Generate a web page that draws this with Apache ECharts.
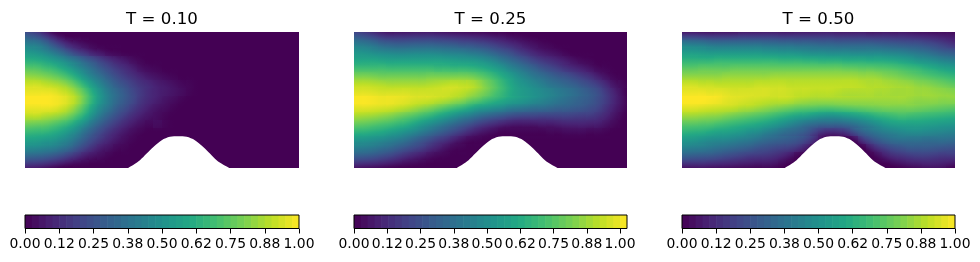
<!DOCTYPE html>
<html><head><meta charset="utf-8">
<style>html,body{margin:0;padding:0;background:#fff}#c{width:980px;height:262px}</style>
<script src="https://cdn.jsdelivr.net/npm/echarts@6/dist/echarts.min.js"></script>
</head><body><div id="c"></div>
<script>
const titles = ['T = 0.10','T = 0.25','T = 0.50'];
const tickValues = [0,0.125,0.25,0.375,0.5,0.625,0.75,0.875,1];
const tickLabels = ['0.00','0.12','0.25','0.38','0.50','0.62','0.75','0.88','1.00'];
const colorbarMax = [1,1.026,1];
const viridis = ['#440154','#482475','#414487','#355f8d','#2a788e','#21918c','#22a884','#44bf70','#7ad151','#bddf26','#fde725'];
const bumpX = [0.754,0.795,0.839,0.888,0.937,0.998,1.058,1.119,1.180,1.240,1.301,1.350,1.399,1.445,1.490];
const bumpY = [0,0.025,0.057,0.106,0.155,0.204,0.229,0.233,0.229,0.204,0.155,0.106,0.057,0.025,0];

const fieldT010 = [
[28,24,17,9,3,0,0,0,0,0,0,0,0,0,0,0,0,0,0,0,0,0,0,0,0,0,0,0,0,0,0,0,0,0],
[42,40,34,25,17,10,6,3,1,0,0,0,0,0,0,0,0,0,0,0,0,0,0,0,0,0,0,0,0,0,0,0,0,0],
[52,50,46,40,33,25,18,13,8,5,2,1,0,0,0,0,0,0,0,0,0,0,0,0,0,0,0,0,0,0,0,0,0,0],
[62,61,58,54,49,43,37,30,24,18,13,9,6,3,1,0,0,0,0,0,0,0,0,0,0,0,0,0,0,0,0,0,0,0],
[73,72,69,66,61,55,48,41,34,27,21,16,12,8,4,2,1,0,0,0,0,0,0,0,0,0,0,0,0,0,0,0,0,0],
[83,82,80,77,73,67,59,50,42,35,28,22,17,13,9,6,4,2,1,0,0,0,0,0,0,0,0,0,0,0,0,0,0,0],
[92,92,90,88,85,80,72,62,52,43,35,28,23,18,14,11,8,6,4,2,1,0,0,0,0,0,0,0,0,0,0,0,0,0],
[97,97,97,96,93,89,82,72,60,49,40,33,27,21,16,12,9,7,5,3,1,0,0,0,0,0,0,0,0,0,0,0,0,0],
[100,100,100,99,97,93,86,75,62,50,41,33,27,21,15,11,8,5,3,1,0,0,0,0,0,0,0,0,0,0,0,0,0,0],
[97,97,97,96,93,88,80,69,56,45,37,29,23,17,12,8,5,3,1,0,0,0,0,0,0,0,0,0,0,0,0,0,0,0],
[90,90,88,86,83,78,70,60,48,38,30,23,17,12,8,5,3,1,0,0,0,0,0,0,0,0,0,0,0,0,0,0,0,0],
[78,77,76,73,69,64,56,47,37,29,22,16,11,7,4,2,3,1,0,0,0,0,0,0,0,0,0,0,0,0,0,0,0,0],
[67,66,65,62,58,52,45,36,28,21,15,10,6,3,1,0,0,0,0,0,0,0,0,0,0,0,0,0,0,0,0,0,0,0],
[57,56,54,52,48,43,36,28,21,15,10,6,3,1,0,0,0,0,0,0,0,0,0,0,0,0,0,0,0,0,0,0,0,0],
[47,46,44,42,38,33,26,19,13,8,5,2,1,0,0,0,0,0,0,0,0,0,0,0,0,0,0,0,0,0,0,0,0,0],
[33,32,30,27,23,18,13,8,5,3,1,0,0,0,0,0,0,0,0,0,0,0,0,0,0,0,0,0,0,0,0,0,0,0],
[16,15,13,10,7,4,2,1,0,0,0,0,0,0,0,0,0,0,0,0,0,0,0,0,0,0,0,0,0,0,0,0,0,0]
];
const fieldT025 = [
[27,24,20,16,14,14,14,15,15,15,14,13,12,11,10,9,8,6,5,3,2,1,0,0,0,0,0,0,0,0,0,0,0,0],
[42,40,37,33,31,30,30,31,31,31,30,29,28,26,25,23,21,18,15,12,9,6,4,2,1,0,0,0,0,0,0,0,0,0],
[52,51,49,47,46,45,45,46,46,46,45,44,43,42,40,38,35,31,27,23,18,14,10,7,5,3,1,0,0,0,0,0,0,0],
[60,60,60,59,58,58,58,58,58,58,58,57,56,55,54,52,49,45,40,35,30,25,20,16,13,10,7,4,2,1,0,0,0,0],
[70,70,70,70,69,69,69,69,69,69,68,68,67,67,66,64,61,57,52,46,41,36,31,26,22,18,14,11,8,5,2,1,0,0],
[82,82,81,80,80,80,80,80,80,81,81,81,81,81,80,77,73,68,62,56,50,45,40,36,32,28,25,21,17,13,8,4,1,0],
[92,92,91,90,89,89,89,89,89,90,91,92,93,92,91,87,81,75,68,61,55,51,47,43,39,36,33,30,26,22,17,11,5,2],
[98,98,97,96,96,96,96,95,95,95,95,95,94,92,89,85,80,74,68,62,57,54,51,48,45,42,39,36,32,28,23,16,9,3],
[102,102,101,100,100,99,98,96,95,94,92,90,87,84,79,75,70,66,62,58,55,52,49,46,43,40,37,34,31,28,23,17,10,4],
[98,98,97,96,95,93,91,88,85,82,78,74,70,66,61,56,53,50,47,43,41,39,37,36,34,32,31,29,27,24,20,14,8,3],
[89,88,87,85,83,80,77,74,70,66,61,56,51,46,42,37,33,30,27,24,22,21,21,20,20,20,20,19,18,17,14,10,5,1],
[78,77,75,73,71,68,65,60,55,50,45,40,35,30,25,20,16,13,10,8,7,7,7,8,8,9,10,10,10,9,8,5,2,0],
[66,65,63,61,58,55,51,47,42,37,32,27,22,17,12,8,5,3,1,1,1,1,1,1,2,2,3,3,3,2,2,1,0,0],
[53,52,50,48,45,42,38,33,28,23,18,14,9,5,2,1,0,0,0,0,0,0,0,0,0,0,0,0,0,0,0,0,0,0],
[43,42,40,37,34,30,26,22,18,13,9,5,2,1,0,0,0,0,0,0,0,0,0,0,0,0,0,0,0,0,0,0,0,0],
[30,29,27,24,21,17,13,10,7,4,2,1,0,0,0,0,0,0,0,0,0,0,0,0,0,0,0,0,0,0,0,0,0,0],
[13,12,11,9,7,5,3,2,1,0,0,0,0,0,0,0,0,0,0,0,0,0,0,0,0,0,0,0,0,0,0,0,0,0]
];
const fieldT050 = [
[18,18,17,16,16,16,16,17,17,17,17,17,16,16,16,16,16,16,16,15,15,15,15,14,14,14,13,13,12,11,10,9,8,7],
[42,41,40,38,37,37,37,37,37,37,36,36,35,35,34,34,33,32,32,31,31,31,31,31,30,29,28,27,26,25,23,21,18,15],
[54,54,53,52,52,52,52,52,52,52,51,51,50,50,49,48,47,47,46,46,46,45,45,45,45,44,43,42,40,38,36,33,30,28],
[64,64,64,64,65,65,65,65,65,65,65,65,64,64,64,63,63,62,62,62,61,61,61,60,60,59,58,56,54,51,49,47,44,42],
[74,74,75,75,75,75,76,76,76,76,76,76,76,76,76,76,76,76,76,76,75,75,74,74,73,72,71,69,67,65,62,60,57,55],
[83,83,83,83,83,84,84,84,84,84,84,85,85,85,85,85,85,85,85,85,85,85,84,84,83,81,80,78,76,74,72,70,68,66],
[92,92,91,91,90,90,90,90,90,91,91,91,91,90,90,90,90,90,90,90,90,90,89,88,88,87,86,85,84,82,81,79,77,75],
[97,97,97,96,96,95,94,94,94,94,94,93,93,92,91,91,90,90,90,89,88,88,88,88,87,87,86,86,86,85,85,84,83,82],
[100,100,100,99,98,96,95,94,93,92,91,90,90,89,87,86,85,85,85,85,85,85,85,85,85,85,85,85,84,83,83,83,82,82],
[95,95,94,93,92,91,90,88,87,85,83,81,79,77,75,74,73,72,72,73,74,75,76,77,78,79,79,79,79,78,77,76,75,74],
[85,85,84,83,82,80,78,76,74,72,70,67,64,61,58,56,53,51,50,51,53,55,58,61,64,66,68,69,68,67,66,65,64,63],
[74,74,73,72,70,68,66,64,62,60,57,54,50,46,42,38,35,33,33,33,35,38,42,46,50,54,56,57,57,57,56,55,54,53],
[64,63,62,60,58,57,55,53,50,48,44,41,37,34,31,27,20,14,12,13,16,24,31,36,40,43,45,47,48,48,47,46,45,44],
[53,52,50,48,47,46,44,42,40,37,34,32,30,28,25,20,12,3,0,0,0,3,15,23,29,33,36,37,37,37,36,36,36,35],
[43,42,41,39,37,35,33,31,29,26,24,22,20,18,14,8,1,0,0,0,0,0,0,8,15,20,24,26,28,28,28,27,26,25],
[30,29,28,27,25,23,21,19,17,16,15,13,10,6,1,0,0,0,0,0,0,0,0,0,4,9,13,15,17,18,18,17,16,16],
[13,13,13,12,11,10,9,8,7,6,6,5,2,0,0,0,0,0,0,0,0,0,0,0,0,0,3,5,7,8,9,9,8,6]
];
const fields = [fieldT010,fieldT025,fieldT050];
const panelLeft = [25,354,682];
const panelWidth = [274,273,273];
const font = 'DejaVu Sans';

const rgbStops = viridis.map(h=>[1,3,5].map(k=>parseInt(h.substr(k,2),16)));
function colorAt(t){
  t=Math.max(0,Math.min(1,t))*(rgbStops.length-1);
  const i=Math.min(Math.floor(t),rgbStops.length-2),u=t-i;
  const c=rgbStops[i].map((a,k)=>Math.round(a+(rgbStops[i+1][k]-a)*u));
  return `rgb(${c[0]},${c[1]},${c[2]})`;
}
function cellRenderer(f,vmax){
  const ny=f.length,nx=f[0].length;
  return (p,api)=>{
    const c=p.dataIndex%nx,r=Math.floor(p.dataIndex/nx);
    const pt=api.coord([c,r]),sz=api.size([1,1]),w=sz[0],h=sz[1];
    const v=f[r][c]/100;
    const cL=Math.max(c-1,0),cR=Math.min(c+1,nx-1),rU=Math.max(r-1,0),rD=Math.min(r+1,ny-1);
    const gx=(f[r][cR]-f[r][cL])/100/((cR-cL)*w),gy=(f[rD][c]-f[rU][c])/100/((rD-rU)*h);
    const m=Math.hypot(gx,gy);
    const x0=Math.floor(pt[0]-w/2),y0=Math.floor(pt[1]-h/2);
    let fill=colorAt(v/vmax);
    if(m>1e-6){
      const L=Math.hypot(w,h)/2,dx=gx/m,dy=gy/m;
      fill={type:'linear',global:true,x:pt[0]-dx*L,y:pt[1]-dy*L,x2:pt[0]+dx*L,y2:pt[1]+dy*L,
        colorStops:[0,0.25,0.5,0.75,1].map(o=>({offset:o,color:colorAt((v+(o-0.5)*2*m*L)/vmax)}))};
    }
    return {type:'rect',shape:{x:x0,y:y0,width:Math.ceil(w)+1,height:Math.ceil(h)+1},style:{fill}};
  };
}

const grid=[],xAxis=[],yAxis=[],series=[],title=[];
fields.forEach((f,i)=>{
  const nx=f[0].length, ny=f.length;
  const cx=[...Array(nx).keys()], cy=[...Array(ny).keys()];
  const g=i*3;
  grid.push({left:panelLeft[i],top:32,width:panelWidth[i],height:136});
  grid.push({left:panelLeft[i],top:32,width:panelWidth[i],height:136});
  grid.push({left:panelLeft[i],top:215,width:panelWidth[i],height:13.5,show:true,borderColor:'#000',borderWidth:1,backgroundColor:'transparent',z:5});
  xAxis.push({gridIndex:g,type:'category',data:cx,show:false});
  yAxis.push({gridIndex:g,type:'category',data:cy,inverse:true,show:false});
  xAxis.push({gridIndex:g+1,type:'value',min:0,max:2,show:false});
  yAxis.push({gridIndex:g+1,type:'value',min:0,max:1,show:false});
  xAxis.push({gridIndex:g+2,type:'value',min:0,max:colorbarMax[i],
    axisLine:{show:false},splitLine:{show:false},
    axisTick:{show:true,length:5,lineStyle:{color:'#000',width:1},customValues:tickValues},
    axisLabel:{show:true,customValues:tickValues,margin:9,color:'#000',fontFamily:font,fontSize:13.9,
      formatter:v=>tickLabels[tickValues.indexOf(v)],hideOverlap:false}});
  yAxis.push({gridIndex:g+2,type:'value',min:0,max:1,show:false});
  const cells=[];
  f.forEach((row,r)=>row.forEach((v,c)=>cells.push([c,r,v/100])));
  series.push({type:'custom',xAxisIndex:g,yAxisIndex:g,data:cells,encode:{x:0,y:1},silent:true,z:2,progressive:0,animation:false,clip:true,
    renderItem:cellRenderer(f,colorbarMax[i])});
  series.push({type:'line',xAxisIndex:g+1,yAxisIndex:g+1,data:bumpX.map((x,k)=>[x,bumpY[k]]),smooth:0.3,
    showSymbol:false,lineStyle:{width:0},areaStyle:{color:'#fff',opacity:1,origin:'start'},silent:true,z:3,animation:false});
  const bands=[];
  const nb=40;
  for(let b=0;b<nb;b++)bands.push([b/nb*colorbarMax[i],(b+1)/nb*colorbarMax[i],(b+0.5)/nb]);
  series.push({type:'custom',xAxisIndex:g+2,yAxisIndex:g+2,data:bands,silent:true,z:2,animation:false,
    clip:true,encode:{x:[0,1]},
    renderItem:(p,api)=>{
      const a=api.coord([api.value(0),0]),b=api.coord([api.value(1),1]);
      return {type:'rect',shape:{x:a[0],y:b[1],width:b[0]-a[0]+0.6,height:a[1]-b[1]},style:{fill:colorAt(api.value(2))}};
    }});
  title.push({text:titles[i],left:panelLeft[i]+panelWidth[i]/2-5,top:6,textAlign:'center',
    textStyle:{fontFamily:font,fontSize:16.67,fontWeight:'normal',color:'#000'}});
});
const chart=echarts.init(document.getElementById('c'),null,{renderer:'canvas'});
chart.setOption({animation:false,backgroundColor:'#fff',title,grid,xAxis,yAxis,series,tooltip:{show:false}});
</script></body></html>
